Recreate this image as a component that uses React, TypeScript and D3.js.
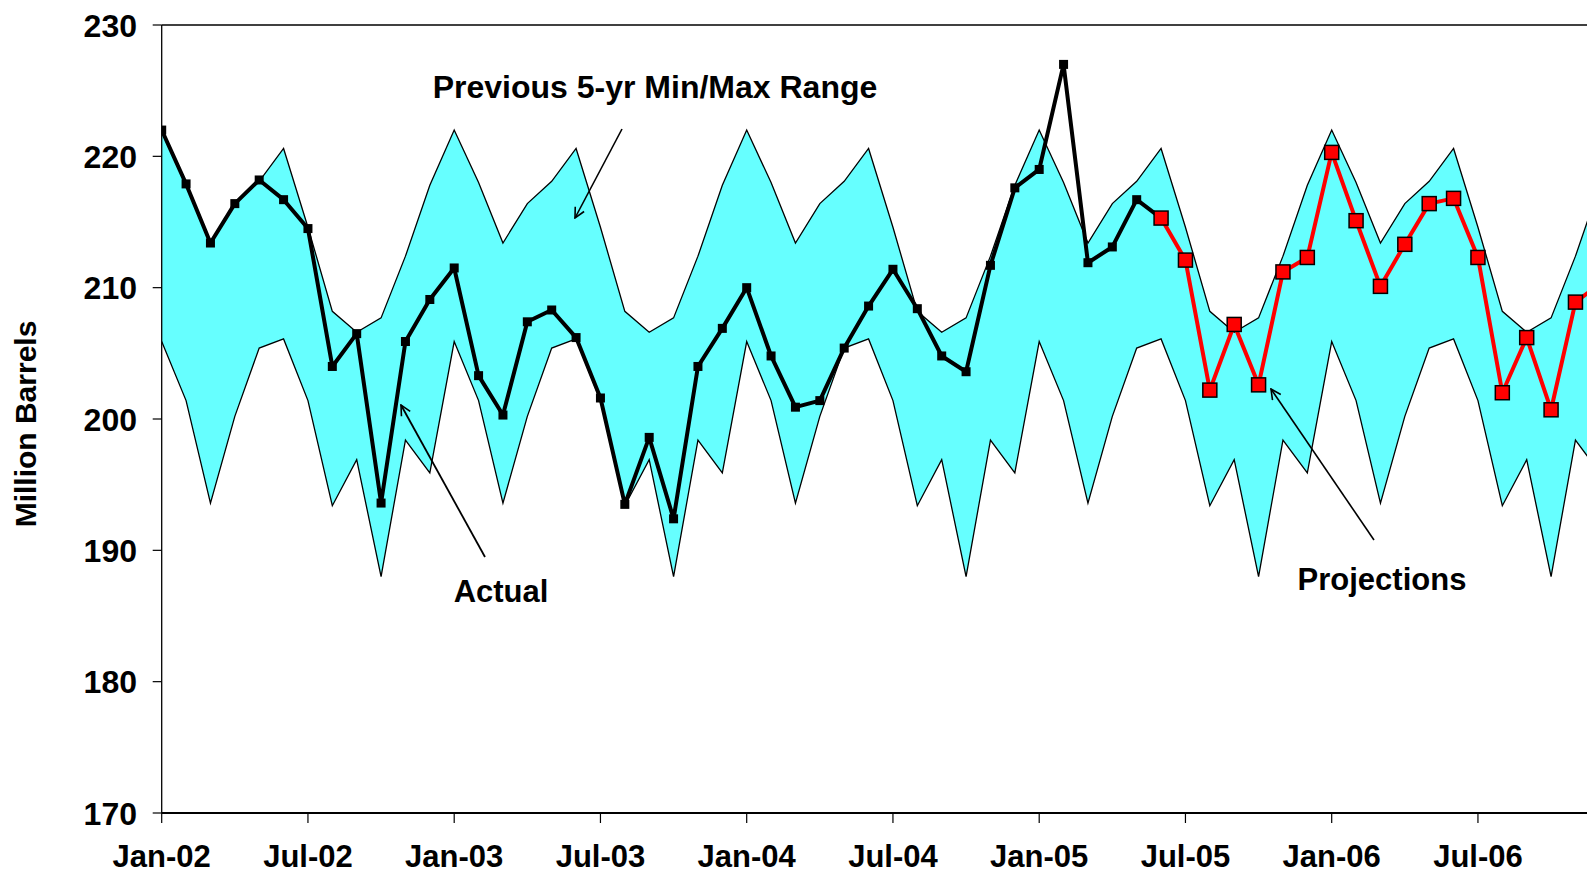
import React, { useEffect } from "react";
import * as d3 from "d3";

// Monthly inventory levels, million barrels
const actualStart = 0; // Jan-02
const actualValues = [
  222.0, 217.9, 213.4, 216.4, 218.2, 216.7, 214.5, 204.0, 206.5, 193.6, 205.9, 209.1,
  211.5, 203.3, 200.3, 207.4, 208.3, 206.2, 201.6, 193.5, 198.6, 192.4, 204.0, 206.9,
  210.0, 204.8, 200.9, 201.4, 205.4, 208.6, 211.4, 208.4, 204.8, 203.6, 211.7, 217.6,
  219.0, 227.0, 211.9, 213.1, 216.7, 215.3,
];
const projectionStart = 41; // Jun-05
const projectionValues = [
  215.3, 212.1, 202.2, 207.2, 202.6, 211.2, 212.3,
  220.3, 215.1, 210.1, 213.3, 216.4, 216.8, 212.3, 202.0, 206.2, 200.7, 208.9, 210.3,
];
// Previous 5-year range by calendar month (Jan..Dec)
const rangeMax = [222.0, 218.0, 213.4, 216.4, 218.1, 220.6, 214.6, 208.2, 206.6, 207.7, 212.4, 217.8];
const rangeMin = [205.9, 201.4, 193.6, 200.2, 205.4, 206.1, 201.4, 193.4, 196.9, 188.0, 198.4, 195.9];
const monthCount = 60; // Jan-02 .. Dec-06
const xTickLabels = ["Jan-02", "Jul-02", "Jan-03", "Jul-03", "Jan-04", "Jul-04", "Jan-05", "Jul-05", "Jan-06", "Jul-06"];
const yTicks = [170, 180, 190, 200, 210, 220, 230];

const W = 1587;
const H = 874;
const left = 161.7;
const monthWidth = 24.375;
const top = 25;
const bottom = 813;
const FONT = "'Liberation Sans', Arial, Helvetica, sans-serif";

export default function App() {
  useEffect(() => {
    document.body.style.margin = "0";
  }, []);

  const x = d3.scaleLinear().domain([0, monthCount - 1]).range([left, left + (monthCount - 1) * monthWidth]);
  const y = d3.scaleLinear().domain([170, 230]).range([bottom, top]);

  const months = d3.range(monthCount);
  const band = d3
    .area<number>()
    .x((m) => x(m))
    .y0((m) => y(rangeMin[m % 12]))
    .y1((m) => y(rangeMax[m % 12]));
  const upperLine = d3.line<number>().x((m) => x(m)).y((m) => y(rangeMax[m % 12]));
  const lowerLine = d3.line<number>().x((m) => x(m)).y((m) => y(rangeMin[m % 12]));

  const actualPts = actualValues.map((v, i) => [actualStart + i, v] as [number, number]);
  const projPts = projectionValues.map((v, i) => [projectionStart + i, v] as [number, number]);
  const seriesLine = d3.line<[number, number]>().x((d) => x(d[0])).y((d) => y(d[1]));

  const xTickIdx = xTickLabels.map((_, i) => i * 6);

  return (
    <svg width={W} height={H} style={{ display: "block", background: "#fff" }} fontFamily={FONT}>
      <defs>
        <clipPath id="plot">
          <rect x={left} y={0} width={W - left} height={bottom + 1} />
        </clipPath>
        <marker id="arrow" viewBox="0 0 12 12" refX="11" refY="6" markerWidth="12" markerHeight="12" markerUnits="userSpaceOnUse" orient="auto">
          <path d="M1,1 L11,6 L1,11" fill="none" stroke="#000" strokeWidth={1.6} />
        </marker>
      </defs>

      {/* plot frame top */}
      <line x1={left} x2={W} y1={top} y2={top} stroke="#000" strokeWidth={1.3} />

      <g clipPath="url(#plot)">
        <path d={band(months) ?? ""} fill="#66ffff" />
        <path d={upperLine(months) ?? ""} fill="none" stroke="#000" strokeWidth={1.3} />
        <path d={lowerLine(months) ?? ""} fill="none" stroke="#000" strokeWidth={1.3} />

        <path d={seriesLine(actualPts) ?? ""} fill="none" stroke="#000" strokeWidth={4} strokeLinejoin="round" />
        {actualPts.map((d, i) => (
          <rect key={"a" + i} x={x(d[0]) - 4.5} y={y(d[1]) - 4.5} width={9} height={9} fill="#000" />
        ))}

        <path d={seriesLine(projPts) ?? ""} fill="none" stroke="#ff0000" strokeWidth={4} strokeLinejoin="round" />
        {projPts.map((d, i) => (
          <rect key={"p" + i} x={x(d[0]) - 7} y={y(d[1]) - 7} width={14} height={14} fill="#ff0000" stroke="#000" strokeWidth={1.5} />
        ))}
      </g>

      {/* y axis */}
      <line x1={left} x2={left} y1={top} y2={bottom} stroke="#000" strokeWidth={1.3} />
      {yTicks.map((t) => (
        <g key={t}>
          <line x1={left - 9} x2={left} y1={y(t)} y2={y(t)} stroke="#000" strokeWidth={1.2} />
          <text x={137} y={y(t)} dy="0.36em" textAnchor="end" fontSize={32} fontWeight="bold">
            {t}
          </text>
        </g>
      ))}
      <text
        transform={`translate(36,424) rotate(-90)`}
        textAnchor="middle"
        fontSize={30}
        fontWeight="bold"
      >
        Million Barrels
      </text>

      {/* x axis */}
      <line x1={left} x2={W} y1={bottom} y2={bottom} stroke="#000" strokeWidth={2.2} />
      {xTickIdx.map((m, i) => (
        <g key={m}>
          <line x1={x(m)} x2={x(m)} y1={bottom} y2={bottom + 10} stroke="#000" strokeWidth={1.2} />
          <text x={x(m)} y={867} textAnchor="middle" fontSize={31} fontWeight="bold">
            {xTickLabels[i]}
          </text>
        </g>
      ))}

      {/* annotations */}
      <text x={655} y={98} textAnchor="middle" fontSize={32} fontWeight="bold">
        Previous 5-yr Min/Max Range
      </text>
      <line x1={622} y1={129} x2={575} y2={218} stroke="#000" strokeWidth={1.6} markerEnd="url(#arrow)" />

      <text x={501} y={602} textAnchor="middle" fontSize={31} fontWeight="bold">
        Actual
      </text>
      <line x1={485} y1={557} x2={401} y2={405} stroke="#000" strokeWidth={1.8} markerEnd="url(#arrow)" />

      <text x={1382} y={590} textAnchor="middle" fontSize={31} fontWeight="bold">
        Projections
      </text>
      <line x1={1374} y1={540} x2={1271} y2={389} stroke="#000" strokeWidth={1.6} markerEnd="url(#arrow)" />
    </svg>
  );
}
